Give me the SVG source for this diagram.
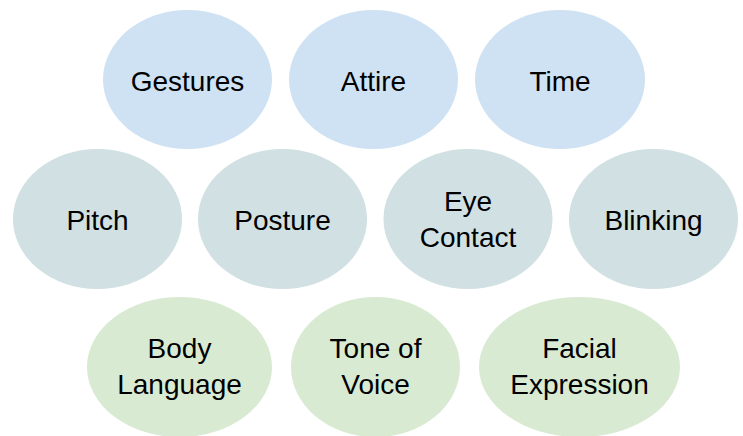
<svg xmlns="http://www.w3.org/2000/svg" width="743" height="436" viewBox="0 0 743 436">
<style>
.r1{fill:#cfe2f3}
.r2{fill:#d0e0e3}
.r3{fill:#d9ead3}
text{font-family:"Liberation Sans",Arial,sans-serif;font-size:28px;fill:#000;text-anchor:middle}
</style>
<rect width="743" height="436" fill="#ffffff"/>
<g id="connectors"></g>
<g id="gestures"><ellipse class="r1" cx="187.5" cy="79.5" rx="84.5" ry="69.5"/><text x="187.5" y="90.5">Gestures</text></g>
<g id="attire"><ellipse class="r1" cx="373.5" cy="79.5" rx="84.5" ry="69.5"/><text x="373.5" y="90.5">Attire</text></g>
<g id="time"><ellipse class="r1" cx="560" cy="79.5" rx="85" ry="69.5"/><text x="560" y="90.5">Time</text></g>
<g id="pitch"><ellipse class="r2" cx="97.5" cy="219" rx="84.5" ry="70"/><text x="97.5" y="230">Pitch</text></g>
<g id="posture"><ellipse class="r2" cx="282.5" cy="219" rx="84.5" ry="70"/><text x="282.5" y="230">Posture</text></g>
<g id="eye-contact"><ellipse class="r2" cx="468" cy="219" rx="84.5" ry="70"/><text x="468" y="211">Eye</text><text x="468" y="247">Contact</text></g>
<g id="blinking"><ellipse class="r2" cx="653.5" cy="219" rx="84.5" ry="70"/><text x="653.5" y="230">Blinking</text></g>
<g id="body-language"><ellipse class="r3" cx="179.5" cy="367" rx="92.5" ry="70"/><text x="179.5" y="358">Body</text><text x="179.5" y="394">Language</text></g>
<g id="tone-of-voice"><ellipse class="r3" cx="375.5" cy="367" rx="84.5" ry="70"/><text x="375.5" y="358">Tone of</text><text x="375.5" y="394">Voice</text></g>
<g id="facial-expression"><ellipse class="r3" cx="579.5" cy="367" rx="100.5" ry="70"/><text x="579.5" y="358">Facial</text><text x="579.5" y="394">Expression</text></g>
</svg>
